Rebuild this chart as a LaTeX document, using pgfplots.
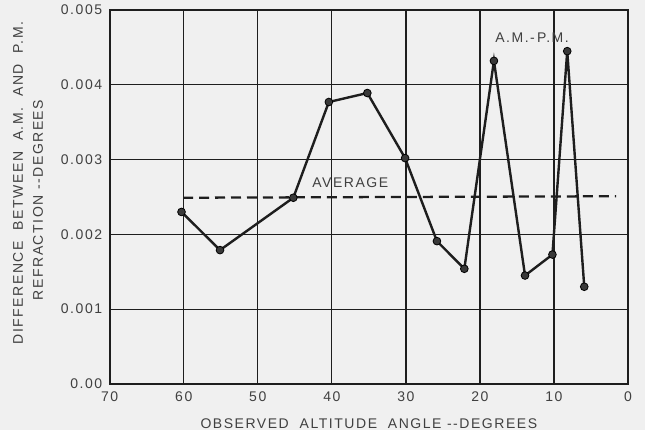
\documentclass[border=0pt]{standalone}
\usepackage{fontspec}
\setmainfont{Liberation Sans}[LetterSpace=11]
\usepackage{pgfplots}
\pgfplotsset{compat=1.18}
\definecolor{bg}{RGB}{240,240,240}
\definecolor{ink}{RGB}{30,30,30}
\begin{document}
\fontsize{10.5pt}{12pt}\selectfont
\begin{tikzpicture}
\fill[bg] (-82.3pt,-34.5pt) rectangle (401.5pt,288pt);
\begin{axis}[
  scale only axis,
  width=388.7pt, height=280.5pt,
  at={(0,0)}, anchor=south west,
  x dir=reverse,
  xmin=0, xmax=70, ymin=0, ymax=0.005,
  xtick={0,10,20,30,40,50,60,70},
  xticklabels={0,10,20,30,40,50,60,70},
  ytick={0,0.001,0.002,0.003,0.004,0.005},
  yticklabels={0.00,0.001,0.002,0.003,0.004,0.005},
  scaled y ticks=false,
  /pgf/number format/assume math mode=true,
  major tick length=0pt,
  grid=major,
  major grid style={ink, line width=1pt},
  axis line style={ink, line width=1.2pt},
  tick label style={font=\fontsize{10.5pt}{12pt}\selectfont, text=ink!85},
  xticklabel style={yshift=-2pt},
  yticklabel style={xshift=-2pt},
  xlabel={OBSERVED\ \ ALTITUDE\ \ ANGLE\ -{}-DEGREES},
  xlabel style={text=ink!85, yshift=-5.5pt},
  clip=false,
]
\addplot[ink, line width=1.8pt, mark=*, mark size=2.9pt,
  mark options={fill=gray!45!black, draw=black, line width=0.6pt}]
coordinates {
(60.3,0.00230)
(55.1,0.00179)
(45.2,0.00249)
(40.4,0.00377)
(35.2,0.00389)
(30.1,0.00302)
(25.8,0.00191)
(22.1,0.00154)
(18.1,0.00432)
(13.9,0.00145)
(10.2,0.00173)
(8.2,0.00445)
(5.9,0.00130)
};
\addplot[ink, line width=1.7pt, dash pattern=on 7.5pt off 4.5pt]
coordinates {(60.1,0.00249) (1.6,0.00251)};
\node[text=ink!85] at (axis cs:37.5,0.00269) {AVERAGE};
\node[text=ink!85] at (axis cs:12.95,0.00463) {A.M.-\,P.M.};
\end{axis}
\node[rotate=90, text=ink!85] at (-68.8pt,150.75pt) {DIFFERENCE\ \ BETWEEN\ \ A.M.\ \ AND\ \ P.M.};
\node[rotate=90, text=ink!85] at (-53.8pt,138pt) {REFRACTION\ -{}-DEGREES};
\pgfresetboundingbox
\path (-82.3pt,-34.5pt) rectangle (401.5pt,288pt);
\end{tikzpicture}
\end{document}
